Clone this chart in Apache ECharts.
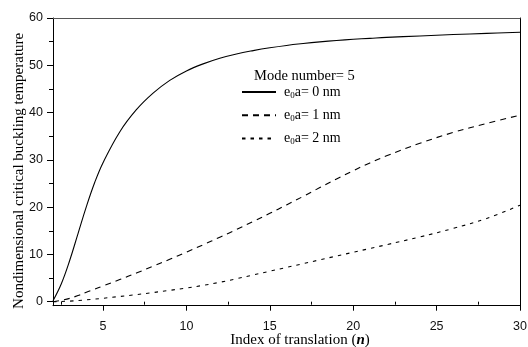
<!DOCTYPE html>
<html>
<head>
<meta charset="utf-8">
<script src="https://cdn.jsdelivr.net/npm/echarts@6/dist/echarts.min.js"></script>
<style>html,body{margin:0;padding:0;background:#fff}#c{width:528px;height:347px}</style>
</head>
<body>
<div id="c"></div>
<script>
// Data
var nValues = [2, 2.5, 3, 3.5, 4, 4.5, 5, 6, 7, 8, 9, 10, 11, 12, 13, 14, 15, 16, 17, 18, 19, 20, 21, 22, 24, 26, 28, 30];
var e0a0 = [0.2, 3.8, 8.7, 14.4, 20.1, 25.2, 29.4, 35.9, 40.6, 44.1, 46.8, 48.8, 50.3, 51.5, 52.4, 53.1, 53.7, 54.2, 54.6, 54.95, 55.25, 55.5, 55.7, 55.9, 56.2, 56.5, 56.75, 57.0];
var e0a1 = [0, 0.3, 0.7, 1.3, 2.0, 2.65, 3.33, 4.67, 6.06, 7.49, 8.96, 10.47, 12.03, 13.63, 15.27, 16.96, 18.69, 20.46, 22.27, 24.13, 25.95, 27.7, 29.35, 30.85, 33.5, 35.8, 37.7, 39.45];
var e0a2 = [0, 0.05, 0.12, 0.24, 0.38, 0.54, 0.72, 1.1, 1.5, 1.93, 2.4, 2.9, 3.45, 4.1, 4.85, 5.65, 6.45, 7.25, 8.05, 8.85, 9.65, 10.45, 11.25, 12.05, 13.7, 15.5, 17.6, 20.4];
var seriesNames = ['e0a= 0 nm', 'e0a= 1 nm', 'e0a= 2 nm'];
var legendLabels = ['{n|e}{s|0}{n|a= 0 nm}', '{n|e}{s|0}{n|a= 1 nm}', '{n|e}{s|0}{n|a= 2 nm}'];
var xMajorTicks = [5, 10, 15, 20, 25, 30];
var xMinorTicks = [2.5, 7.5, 12.5, 17.5, 22.5, 27.5];
var yMajorTicks = [0, 10, 20, 30, 40, 50, 60];
var yMinorTicks = [5, 15, 25, 35, 45, 55];
var modeText = 'Mode number= 5';
var xTitle = 'Index of translation ({b|n})';
var yTitle = 'Nondimensional critical buckling temperature';

function pairs(ys) { return nValues.map(function (x, i) { return [x, ys[i]]; }); }

var serif = '"Liberation Serif", "Times New Roman", serif';
var sans = '"Liberation Sans", Arial, sans-serif';

var chart = echarts.init(document.getElementById('c'), null, {renderer: 'canvas'});
chart.setOption({
  animation: false,
  backgroundColor: '#fff',
  title: {
    text: modeText, left: 254, top: 69, padding: 0,
    textStyle: {fontFamily: serif, fontSize: 14.5, fontWeight: 'normal', color: '#000'}
  },
  legend: {
    orient: 'vertical', left: 241, top: 85, padding: 0,
    itemWidth: 34, itemHeight: 14, itemGap: 8.3,
    data: seriesNames,
    itemStyle: {color: 'rgba(0,0,0,0)', borderColor: 'rgba(0,0,0,0)', borderWidth: 0},
    formatter: function (name) { return legendLabels[seriesNames.indexOf(name)]; },
    textStyle: {
      padding: [0, 0, 0, 3],
      rich: {
        n: {fontFamily: serif, fontSize: 14, color: '#000', lineHeight: 16},
        s: {fontFamily: serif, fontSize: 9, color: '#000', lineHeight: 10, verticalAlign: 'bottom'}
      }
    }
  },
  grid: {left: 53, right: 8, top: 18, bottom: 41.3, containLabel: false, outerBoundsMode: 'none'},
  xAxis: [
    {
      type: 'value', min: 2, max: 30, position: 'bottom',
      name: xTitle, nameLocation: 'middle', nameGap: 27, nameMoveOverlap: false,
      nameTextStyle: {fontFamily: serif, fontSize: 15, color: '#000', padding: [0, 0, 0, 27], verticalAlign: 'top',
        rich: {b: {fontFamily: serif, fontSize: 15, fontWeight: 'bold', fontStyle: 'italic', color: '#000'}}},
      axisLine: {show: true, onZero: false, lineStyle: {color: '#000', width: 1}},
      axisTick: {show: true, inside: false, length: 5, customValues: xMajorTicks, lineStyle: {color: '#000'}},
      axisLabel: {customValues: xMajorTicks, margin: 14, fontFamily: sans, fontSize: 12.5, color: '#111'},
      splitLine: {show: false}
    },
    {
      type: 'value', min: 2, max: 30, position: 'bottom',
      axisLine: {show: false},
      axisTick: {show: true, inside: false, length: 3, customValues: xMinorTicks, lineStyle: {color: '#000'}},
      axisLabel: {show: false},
      splitLine: {show: false}
    },
    {
      type: 'value', min: 2, max: 30, position: 'top',
      axisLine: {show: true, onZero: false, lineStyle: {color: '#555', width: 1.2}},
      axisTick: {show: false}, axisLabel: {show: false}, splitLine: {show: false}
    }
  ],
  yAxis: [
    {
      type: 'value', min: -0.85, max: 60, position: 'left',
      name: yTitle, nameLocation: 'middle', nameGap: 26, nameRotate: 90, nameMoveOverlap: false,
      nameTextStyle: {fontFamily: serif, fontSize: 15, color: '#000', padding: [0, 18, 0, 0]},
      axisLine: {show: true, onZero: false, lineStyle: {color: '#000', width: 1}},
      axisTick: {show: true, inside: false, length: 6, customValues: yMajorTicks, lineStyle: {color: '#000'}},
      axisLabel: {customValues: yMajorTicks, margin: 10, fontFamily: sans, fontSize: 12.5, color: '#111'},
      splitLine: {show: false}
    },
    {
      type: 'value', min: -0.85, max: 60, position: 'left',
      axisLine: {show: false},
      axisTick: {show: true, inside: false, length: 4, customValues: yMinorTicks, lineStyle: {color: '#000'}},
      axisLabel: {show: false}, splitLine: {show: false}
    },
    {
      type: 'value', min: -0.85, max: 60, position: 'right',
      axisLine: {show: true, onZero: false, lineStyle: {color: '#000', width: 1}},
      axisTick: {show: false}, axisLabel: {show: false}, splitLine: {show: false}
    }
  ],
  series: [
    {name: seriesNames[0], type: 'line', data: pairs(e0a0), smooth: 0.4, symbol: 'none',
      lineStyle: {color: '#000', width: 1.1, type: 'solid'}, itemStyle: {color: '#000'}},
    {name: seriesNames[1], type: 'line', data: pairs(e0a1), smooth: 0.4, symbol: 'none',
      lineStyle: {color: '#000', width: 1.1, type: [6, 5]}, itemStyle: {color: '#000'}},
    {name: seriesNames[2], type: 'line', data: pairs(e0a2), smooth: 0.4, symbol: 'none',
      lineStyle: {color: '#000', width: 1.1, type: [3.5, 5]}, itemStyle: {color: '#000'}}
  ]
});
</script>
</body>
</html>
